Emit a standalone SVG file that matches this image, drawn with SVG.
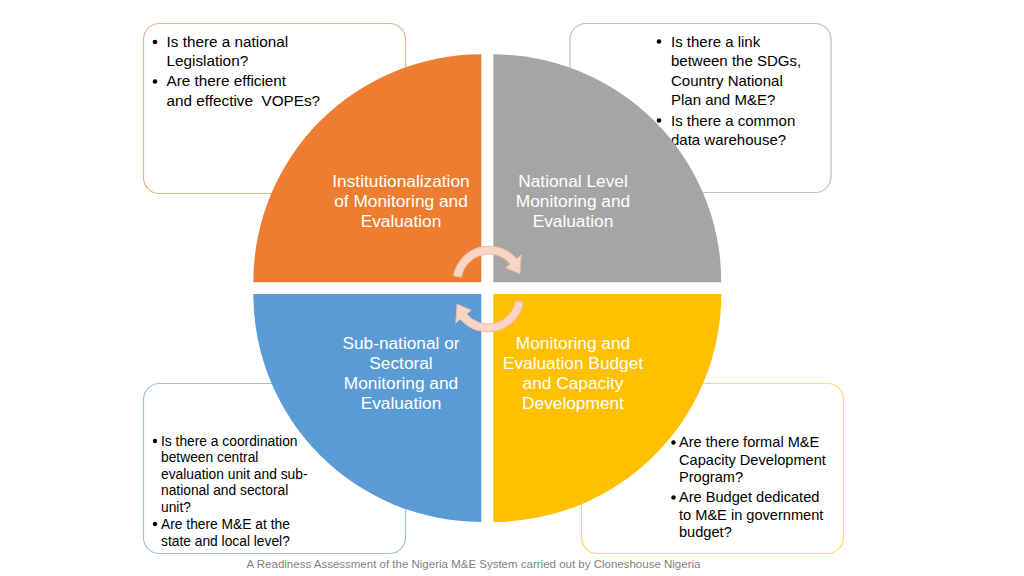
<svg xmlns="http://www.w3.org/2000/svg" width="1024" height="576" viewBox="0 0 1024 576">
<style>
.box{fill:#fff;stroke-width:1.2}
.q{font-family:"Liberation Sans",Arial,sans-serif;fill:#000}
.lbl{font-family:"Liberation Sans",Arial,sans-serif;fill:#fff;font-size:17.3px;text-anchor:middle}
.cap{font-family:"Liberation Sans",Arial,sans-serif;fill:#7f7f7f;font-size:11.5px;text-anchor:middle}
.arr{fill:#F9D5C6;stroke:#EFBCA8;stroke-width:1}
</style>
<rect width="1024" height="576" fill="#fff"/>
<g id="box-tl">
<rect class="box" x="143.5" y="23.5" width="262" height="170" rx="16" stroke="#F4B183"/>
<circle cx="155" cy="42" r="2.3"/>
<circle cx="155" cy="81.5" r="2.3"/>
<text class="q" font-size="15.3"><tspan x="166.5" y="46.5">Is there a national</tspan><tspan x="166.5" y="66">Legislation?</tspan><tspan x="166.5" y="86">Are there efficient</tspan><tspan x="166.5" y="105.5" xml:space="preserve">and effective  VOPEs?</tspan></text>
</g>
<g id="box-tr">
<rect class="box" x="570" y="23.5" width="261" height="169" rx="16" stroke="#BFBFBF"/>
<circle cx="659" cy="41.5" r="2.3"/>
<circle cx="659" cy="120.5" r="2.3"/>
<text class="q" font-size="15"><tspan x="671" y="46.5">Is there a link</tspan><tspan x="671" y="66">between the SDGs,</tspan><tspan x="671" y="85.5">Country National</tspan><tspan x="671" y="105">Plan and M&amp;E?</tspan><tspan x="671" y="125.5">Is there a common</tspan><tspan x="671" y="145">data warehouse?</tspan></text>
</g>
<g id="box-bl">
<rect class="box" x="143.5" y="383.5" width="262" height="170" rx="16" stroke="#9DC3E6"/>
<circle cx="155" cy="441" r="2.2"/>
<circle cx="155" cy="524" r="2.2"/>
<text class="q" font-size="13.8"><tspan x="161" y="445.5">Is there a coordination</tspan><tspan x="161" y="462">between central</tspan><tspan x="161" y="478.5">evaluation unit and sub-</tspan><tspan x="161" y="495">national and sectoral</tspan><tspan x="161" y="511.5">unit?</tspan><tspan x="161" y="528.5">Are there M&amp;E at the</tspan><tspan x="161" y="545.5">state and local level?</tspan></text>
</g>
<g id="box-br">
<rect class="box" x="581.5" y="383.5" width="262" height="170" rx="16" stroke="#FFD966"/>
<circle cx="673.5" cy="442.5" r="2.2"/>
<circle cx="673.5" cy="497.5" r="2.2"/>
<text class="q" font-size="14.6"><tspan x="679" y="447">Are there formal M&amp;E</tspan><tspan x="679" y="465">Capacity Development</tspan><tspan x="679" y="482">Program?</tspan><tspan x="679" y="502">Are Budget dedicated</tspan><tspan x="679" y="520">to M&amp;E in government</tspan><tspan x="679" y="537">budget?</tspan></text>
</g>
<g id="q-institutional">
<path d="M481.3,282.3 H253.3 A228,228 0 0 1 481.3,54.3 Z" fill="#ED7D31"/>
<text class="lbl"><tspan x="401" y="187">Institutionalization</tspan><tspan x="401" y="207">of Monitoring and</tspan><tspan x="401" y="227">Evaluation</tspan></text>
</g>
<g id="q-national">
<path d="M493.3,282.3 V54.3 A228,228 0 0 1 721.3,282.3 Z" fill="#A5A5A5"/>
<text class="lbl"><tspan x="573" y="187">National Level</tspan><tspan x="573" y="207">Monitoring and</tspan><tspan x="573" y="227">Evaluation</tspan></text>
</g>
<g id="q-subnational">
<path d="M481.3,294 V522 A228,228 0 0 1 253.3,294 Z" fill="#5B9BD5"/>
<text class="lbl"><tspan x="401" y="349">Sub-national or</tspan><tspan x="401" y="369">Sectoral</tspan><tspan x="401" y="389">Monitoring and</tspan><tspan x="401" y="409">Evaluation</tspan></text>
</g>
<g id="q-budget">
<path d="M493.3,294 H721.3 A228,228 0 0 1 493.3,522 Z" fill="#FFC000"/>
<text class="lbl"><tspan x="573" y="349">Monitoring and</tspan><tspan x="573" y="369">Evaluation Budget</tspan><tspan x="573" y="389">and Capacity</tspan><tspan x="573" y="409">Development</tspan></text>
</g>
<g id="connectors">
<path class="arr" d="M453.55,275.75 A36,36 0 0 1 516.58,258.86 L521.17,255 L519.91,273.72 L505.85,267.86 L510.45,264 A28,28 0 0 0 461.43,277.14 Z"/>
<path class="arr" d="M523.45,302.25 A36,36 0 0 1 460.42,319.14 L455.83,323 L457.09,304.28 L471.15,310.14 L466.55,314 A28,28 0 0 0 515.57,300.86 Z"/>
</g>
<text class="cap" x="473.5" y="567.5">A Readiness Assessment of the Nigeria M&amp;E System carried out by Cloneshouse Nigeria</text>
</svg>
